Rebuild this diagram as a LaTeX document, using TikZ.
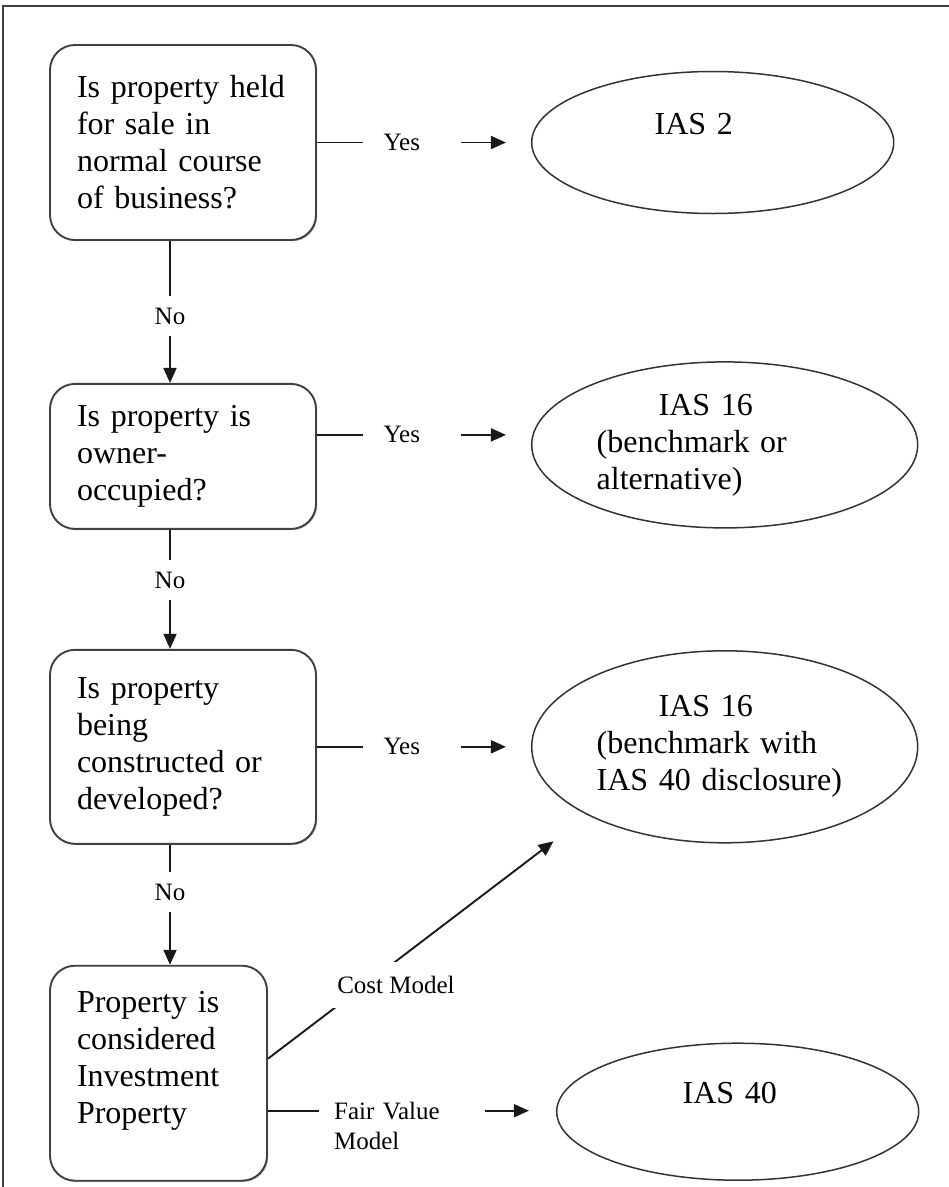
\documentclass[tikz,border=0pt]{standalone}
\usepackage{fontspec}
\setmainfont{Liberation Serif}
\usepackage{tikz}
\usetikzlibrary{shapes, arrows.meta, positioning, shadows}

\begin{document}
\begin{tikzpicture}[
    question/.style={draw=black!75, fill=white, rectangle, rounded corners=25pt, line width=1.9pt, text width=212pt, inner xsep=27pt, align=left, font=\fontsize{32}{37}\selectfont, drop shadow={shadow xshift=1.2pt, shadow yshift=-1.2pt, fill=black!50, opacity=.6}},
    outcome/.style={draw=black!80, ellipse, line width=1.5pt, inner sep=0pt, text width=256pt, align=left, font=\fontsize{32}{37}\selectfont},
    arrow/.style={-{Triangle[length=15pt, width=13pt]}, line width=1.9pt, black!90},
    yeslbl/.style={fill=white, text width=57pt, inner xsep=20.5pt, align=left, font=\fontsize{25}{30}\selectfont},
    nolbl/.style={fill=white, minimum height=40pt, inner sep=0pt, font=\fontsize{25}{30}\selectfont},
    costlbl/.style={fill=white, inner xsep=4pt, minimum height=46pt, font=\fontsize{25}{30}\selectfont},
    fairlbl/.style={fill=white, text width=136pt, inner xsep=15pt, align=left, font=\fontsize{25}{30}\selectfont},
    frame/.style={draw=black!75, line width=1.2pt}
]
\useasboundingbox (0,0) rectangle (949pt,-1187pt);
\draw[frame] (949pt,-6pt) -- (3pt,-6pt) -- (3pt,-1187pt);

\node[question, minimum height=195pt] (q1) at (183pt,-142.5pt) {Is property held\\for sale in\\normal course\\of business?};
\node[question, minimum height=145pt, below=142pt of q1] (q2) {Is property is\\owner-\\occupied?};
\node[question, minimum height=194pt, below=119pt of q2] (q3) {Is property\\being\\constructed or\\developed?};
\node[question, text width=163pt, minimum height=215pt, below=120pt of q3.south west, anchor=north west] (q4) {Property is\\considered\\Investment\\Property\\[-5pt]~};

\node[outcome, minimum width=362pt, minimum height=142pt, right=214pt of q1] (e1) {\hspace*{70pt}IAS 2\\~};
\node[outcome, minimum width=386pt, minimum height=166pt, right=214pt of q2, yshift=11.5pt] (e2) {\hspace*{62pt}IAS 16\\(benchmark or\\alternative)};
\node[outcome, minimum width=386pt, minimum height=192pt, right=214pt of q3] (e3) {\hspace*{62pt}IAS 16\\(benchmark with\\IAS 40 disclosure)};
\node[outcome, minimum width=361pt, minimum height=137pt, right=288pt of q4, yshift=-38.5pt] (e4) {\hspace*{73pt}IAS 40\\~};

\coordinate (y2) at ([yshift=21.5pt]q2.east);
\draw[arrow, shorten >=25pt] (q1.east) -- (e1.west);
\draw[arrow, shorten >=25pt] (y2) -- (y2 -| e2.west);
\draw[arrow, shorten >=25pt] (q3.east) -- (e3.west);
\node[yeslbl, anchor=west] (yes1) at ([xshift=46pt]q1.east) {Yes};
\node[yeslbl, anchor=west] (yes2) at ([xshift=46pt]y2) {Yes};
\node[yeslbl, anchor=west] (yes3) at ([xshift=46pt]q3.east) {Yes};

\coordinate (n1) at ([xshift=-13pt]q1.south);
\coordinate (n2) at ([xshift=-13pt]q2.south);
\coordinate (n3) at ([xshift=-13pt]q3.south);
\draw[arrow] (n1) -- (n1 |- q2.north);
\draw[arrow] (n2) -- (n2 |- q3.north);
\draw[arrow] (n3) -- (n3 |- q4.north);
\node[nolbl, anchor=north] (no1) at ([yshift=-55pt]n1) {No};
\node[nolbl, anchor=north] (no2) at ([yshift=-30pt]n2) {No};
\node[nolbl, anchor=north] (no3) at ([yshift=-27pt]n3) {No};

\coordinate (c4) at ([yshift=14.5pt]q4.east);
\coordinate (f4) at ([yshift=-37.5pt]q4.east);
\draw[arrow, shorten >=43pt] (c4) -- (e3.south west);
\draw[arrow, shorten >=27pt] (f4) -- (f4 -| e4.west);
\node[costlbl] (cost) at (396pt,-985pt) {Cost Model};
\node[fairlbl, anchor=west] (fair) at ([xshift=51pt, yshift=-15pt]f4) {Fair Value\\Model};
\end{tikzpicture}
\end{document}
